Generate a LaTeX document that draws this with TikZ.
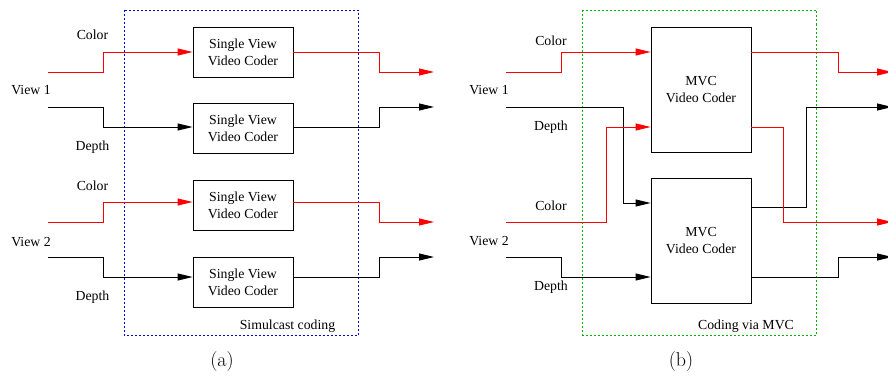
\documentclass[tikz,border=0pt]{standalone}
\usepackage{fontspec}
\newfontfamily\tms{Liberation Serif}
\usetikzlibrary{arrows.meta}
\begin{document}
\begin{tikzpicture}[x=1pt,y=-1pt,
  coder/.style={draw, line width=0.8pt, inner sep=0pt, align=center,
    font=\tms\fontsize{13.8}{17}\selectfont},
  svc/.style={coder, minimum width=100pt, minimum height=50pt},
  mvc/.style={coder, minimum width=100pt, minimum height=125pt},
  lbl/.style={font=\tms\fontsize{13.8}{17}\selectfont, inner sep=0pt},
  subcap/.style={font=\fontsize{20}{24}\selectfont, inner sep=0pt},
  sig/.style={line width=0.9pt, -{Triangle[length=15pt,width=7pt]}},
  redsig/.style={sig, red},
  frame/.style={line width=0.8pt, dash pattern=on 2pt off 2pt}]
\useasboundingbox (0,0) rectangle (888,377);

% ---------------- (a) ----------------
\draw[frame, blue!80!black] (124,10) rectangle (358,335.5);
\node[svc] (a1) at (243,52) {Single View\\Video Coder};
\node[svc] (a2) at (243,128.5) {Single View\\Video Coder};
\node[svc] (a3) at (243,205) {Single View\\Video Coder};
\node[svc] (a4) at (243,282) {Single View\\Video Coder};

\coordinate (ac1) at (48,72);
\coordinate (ad1) at (48,107);
\coordinate (ac2) at (48,222);
\coordinate (ad2) at (48,257);
\coordinate (aoc1) at (434,72);
\coordinate (aod1) at (434,107);
\coordinate (aoc2) at (434,222);
\coordinate (aod2) at (434,257);

\draw[redsig] (ac1) -| (103,52) -- (a1.west);
\draw[sig] (ad1) -| (103,127) -- (a2.west |- 0,127);
\draw[redsig] (ac2) -| (103,202) -- (a3.west |- 0,202);
\draw[sig] (ad2) -| (103,277) -- (a4.west |- 0,277);

\draw[redsig] (a1.east) -| (379,72) -- (aoc1);
\draw[sig] (a2.east |- 0,127) -| (379,107) -- (aod1);
\draw[redsig] (a3.east |- 0,202) -| (379,222) -- (aoc2);
\draw[sig] (a4.east |- 0,277) -| (379,257) -- (aod2);

\node[lbl] (alc1) at (92.5,35) {Color};
\node[lbl] (alv1) at (31,90) {View 1};
\node[lbl] (ald1) at (92.5,147) {Depth};
\node[lbl] (alc2) at (92.5,186) {Color};
\node[lbl] (alv2) at (31,242) {View 2};
\node[lbl] (ald2) at (92.5,297) {Depth};
\node[lbl] (asim) at (287.5,326) {Simulcast coding};
\node[subcap] (capa) at (222,362) {(a)};

% ---------------- (b) ----------------
\draw[frame, green!70!black] (582.5,10) rectangle (816,335);
\node[mvc] (b1) at (701,89.5) {MVC\\Video Coder};
\node[mvc] (b2) at (701,241) {MVC\\Video Coder};

\coordinate (bc1) at (506,72);
\coordinate (bd1) at (506,107);
\coordinate (bc2) at (506,222);
\coordinate (bd2) at (506,257);
\coordinate (boc1) at (892,72);
\coordinate (bod1) at (892,107);
\coordinate (boc2) at (892,222);
\coordinate (bod2) at (892,257);

\draw[sig] (bd1) -| (623,203) -- (b2.west |- 0,203);
\draw[sig] (bd2) -| (561,277) -- (b2.west |- 0,277);
\draw[redsig] (bc1) -| (561,52) -- (b1.west |- 0,52);
\draw[redsig] (bc2) -| (606,127) -- (b1.west |- 0,127);

\draw[sig] (b2.east |- 0,207) -| (806,107) -- (bod1);
\draw[sig] (b2.east |- 0,277) -| (838,257) -- (bod2);
\draw[redsig] (b1.east |- 0,52) -| (838,72) -- (boc1);
\draw[redsig] (b1.east |- 0,127) -| (783,222) -- (boc2);

\node[lbl] (blc1) at (551,41) {Color};
\node[lbl] (blv1) at (489,90) {View 1};
\node[lbl] (bld1) at (551,127) {Depth};
\node[lbl] (blc2) at (551,206) {Color};
\node[lbl] (blv2) at (489,241) {View 2};
\node[lbl] (bld2) at (551,287) {Depth};
\node[lbl] (bmvc) at (746,326) {Coding via MVC};
\node[subcap] (capb) at (681,362) {(b)};
\end{tikzpicture}
\end{document}
